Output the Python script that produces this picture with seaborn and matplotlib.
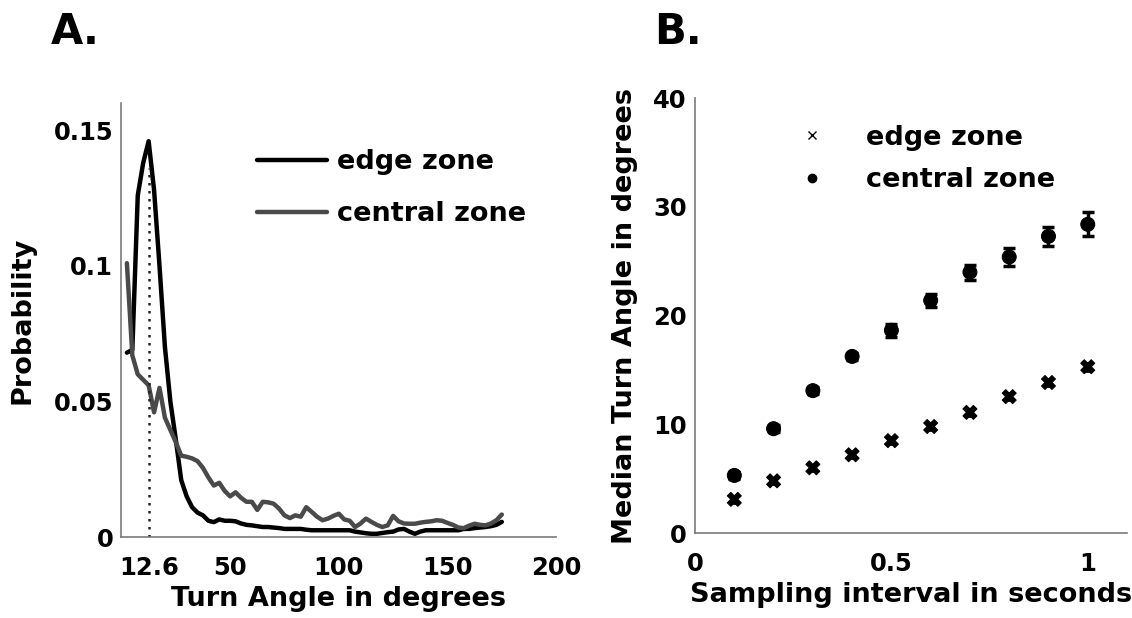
import seaborn as sns
import matplotlib.pyplot as plt
import pandas as pd

# Panel A: turn angle distributions
angles = [2.5, 5, 7.5, 10, 12.5, 15, 17.5, 20, 22.5, 25, 27.5, 30, 32.5, 35, 37.5,
          40, 42.5, 45, 47.5, 50, 52.5, 55, 57.5, 60, 62.5, 65, 67.5, 70, 72.5, 75,
          77.5, 80, 82.5, 85, 87.5, 90, 92.5, 95, 97.5, 100, 102.5, 105, 107.5, 110,
          112.5, 115, 117.5, 120, 122.5, 125, 127.5, 130, 132.5, 135, 137.5, 140,
          142.5, 145, 147.5, 150, 152.5, 155, 157.5, 160, 162.5, 165, 167.5, 170,
          172.5, 175]
edge_prob = [0.068, 0.069, 0.126, 0.138, 0.146, 0.128, 0.100, 0.070, 0.050, 0.036,
             0.021, 0.015, 0.011, 0.009, 0.008, 0.006, 0.0055, 0.0065, 0.006, 0.006,
             0.0058, 0.005, 0.0045, 0.0043, 0.004, 0.0037, 0.0037, 0.0035, 0.0033, 0.003,
             0.003, 0.003, 0.003, 0.0027, 0.0025, 0.0025, 0.0025, 0.0025, 0.0025, 0.0025,
             0.0025, 0.0025, 0.002, 0.0017, 0.0014, 0.0012, 0.0012, 0.0015, 0.0018, 0.002,
             0.0028, 0.003, 0.002, 0.0012, 0.002, 0.0025, 0.0025, 0.0025, 0.0025, 0.0025,
             0.0025, 0.0025, 0.003, 0.003, 0.0033, 0.0035, 0.0037, 0.004, 0.0045, 0.0056]
central_prob = [0.101, 0.067, 0.060, 0.058, 0.056, 0.046, 0.055, 0.044, 0.0395, 0.035,
                0.030, 0.0296, 0.029, 0.028, 0.0255, 0.022, 0.019, 0.020, 0.017, 0.015,
                0.0165, 0.0145, 0.013, 0.013, 0.010, 0.013, 0.0128, 0.0123, 0.0105, 0.008,
                0.007, 0.008, 0.0075, 0.011, 0.0093, 0.0075, 0.0062, 0.0068, 0.0078, 0.0086,
                0.0065, 0.006, 0.0037, 0.005, 0.0068, 0.0056, 0.0045, 0.0037, 0.0043, 0.0078,
                0.0058, 0.005, 0.0049, 0.0049, 0.0053, 0.0056, 0.0058, 0.0062, 0.006, 0.0052,
                0.0045, 0.0035, 0.0033, 0.0042, 0.0049, 0.0045, 0.0043, 0.005, 0.0062, 0.0083]
median_edge = 12.6

# Panel B: median turn angle vs sampling interval
interval = [0.1, 0.2, 0.3, 0.4, 0.5, 0.6, 0.7, 0.8, 0.9, 1.0]
edge_median = [3.1, 4.8, 6.0, 7.2, 8.5, 9.8, 11.1, 12.55, 13.85, 15.3]
edge_err = [0.3, 0.3, 0.3, 0.3, 0.3, 0.3, 0.3, 0.3, 0.35, 0.35]
central_median = [5.3, 9.6, 13.1, 16.25, 18.65, 21.4, 24.0, 25.4, 27.3, 28.4]
central_err = [0.3, 0.3, 0.3, 0.3, 0.6, 0.6, 0.7, 0.8, 0.9, 1.1]

sns.set_style("white")
plt.rcParams['font.family'] = ['DejaVu Sans']
plt.rcParams['font.weight'] = 'bold'
plt.rcParams['axes.labelweight'] = 'bold'
plt.rcParams['text.color'] = 'black'
plt.rcParams['axes.labelcolor'] = 'black'

fs = 17.5   # tick labels
lfs = 19.5  # axis labels and legends
fig = plt.figure(figsize=(11.32, 6.18), dpi=100)
axA = fig.add_axes([0.1073, 0.131, 0.384, 0.702])
axB = fig.add_axes([0.614, 0.1375, 0.3816, 0.7035])

dfA = pd.DataFrame({"angle": angles * 2,
                    "prob": edge_prob + central_prob,
                    "zone": ["edge zone"] * len(angles) + ["central zone"] * len(angles)})
sns.lineplot(data=dfA, x="angle", y="prob", hue="zone",
             palette={"edge zone": "black", "central zone": "#4a4a4a"},
             linewidth=3.2, ax=axA, sort=False)
axA.plot([median_edge, median_edge], [0, 0.136], color="#222222", linestyle=(0, (1, 2.2)),
         linewidth=1.8)
axA.set_xlim(0, 200)
axA.set_ylim(0, 0.16)
axA.set_xticks([12.6, 50, 100, 150, 200])
axA.set_xticklabels(["12.6", "50", "100", "150", "200"])
axA.set_yticks([0, 0.05, 0.1, 0.15])
axA.set_yticklabels(["0", "0.05", "0.1", "0.15"])
axA.set_xlabel("Turn Angle in degrees", fontsize=lfs, fontweight="bold", labelpad=4)
axA.set_ylabel("Probability", fontsize=lfs, fontweight="bold", labelpad=13)
leg = axA.legend(loc="upper left", bbox_to_anchor=(0.255, 0.95), frameon=False,
                 fontsize=lfs, handlelength=2.6, handletextpad=0.35, labelspacing=0.95)
for t in leg.get_texts():
    t.set_fontweight("bold")

dfB = pd.DataFrame({"interval": interval * 2,
                    "median": edge_median + central_median,
                    "zone": ["edge zone"] * len(interval) + ["central zone"] * len(interval)})
sns.scatterplot(data=dfB, x="interval", y="median", style="zone",
                markers={"edge zone": "X", "central zone": "o"},
                color="black", s=100, edgecolor="black", ax=axB, legend=False)
axB.errorbar(interval, edge_median, yerr=edge_err, fmt="none", ecolor="black",
             elinewidth=2, capsize=3, capthick=2)
axB.errorbar(interval, central_median, yerr=central_err, fmt="none", ecolor="black",
             elinewidth=2.5, capsize=4, capthick=2.5)
axB.plot([], [], "x", color="black", markersize=6, label="edge zone")
axB.plot([], [], "o", color="black", markersize=6, label="central zone")
axB.set_xlim(0, 1.1)
axB.set_ylim(0, 40)
axB.set_xticks([0, 0.5, 1])
axB.set_xticklabels(["0", "0.5", "1"])
axB.set_yticks([0, 10, 20, 30, 40])
axB.set_xlabel("Sampling interval in seconds", fontsize=lfs, fontweight="bold", labelpad=4)
axB.set_ylabel("Median Turn Angle in degrees", fontsize=lfs, fontweight="bold", labelpad=11)
legB = axB.legend(loc="upper left", bbox_to_anchor=(0.145, 0.995), frameon=False,
                  fontsize=lfs, handlelength=2.2, handletextpad=0.9, labelspacing=0.6)
for t in legB.get_texts():
    t.set_fontweight("bold")

for ax in (axA, axB):
    sns.despine(ax=ax)
    for s in ("left", "bottom"):
        ax.spines[s].set_color("#7a7a7a")
        ax.spines[s].set_linewidth(1.2)
    ax.tick_params(direction="in", length=4, width=1, color="#7a7a7a",
                   labelcolor="black", labelsize=fs, pad=6)
    ax.tick_params(axis="x", pad=14)
    for lab in ax.get_xticklabels() + ax.get_yticklabels():
        lab.set_fontweight("bold")

fig.text(0.045, 0.948, "A.", fontsize=30, fontweight="bold", ha="left", va="center")
fig.text(0.578, 0.948, "B.", fontsize=30, fontweight="bold", ha="left", va="center")

fig.savefig("out.png", dpi=100)
